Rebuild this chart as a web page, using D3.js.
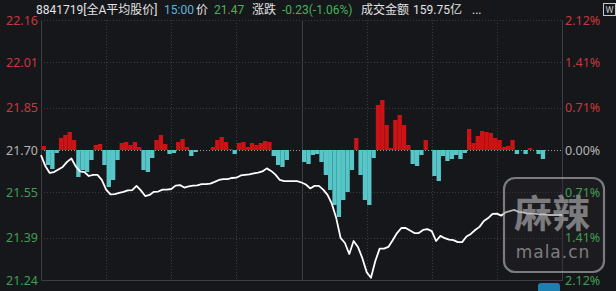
<!DOCTYPE html>
<meta charset="utf-8">
<style>

html, body {
  margin: 0;
  overflow: hidden;
  padding: 0;
}

body {
  background: #16171b;
}

svg {
  display: block;
}

text {
  font-family: Roboto, "Noto Sans CJK SC", sans-serif;
}

.grid line {
  stroke: #3a3c42;
  stroke-dasharray: 1,2;
}

.axis text {
  font-family: "Noto Sans", sans-serif;
  font-size: 12.5px;
}

</style>
<svg width="616" height="291"></svg>
<script src="https://d3js.org/d3.v7.min.js"></script>
<script>

// previous close and axis ticks
var basePrice = 21.70;
var priceTicks = [22.16, 22.01, 21.85, 21.70, 21.55, 21.39, 21.24];
var pctTicks = ["2.12%", "1.41%", "0.71%", "0.00%", "0.71%", "1.41%", "2.12%"];

// price every 2 minutes, 9:30 .. 15:00
var prices = [
  21.682, 21.643, 21.619, 21.622, 21.631, 21.640, 21.658, 21.670, 21.642, 21.624,
  21.622, 21.608, 21.612, 21.612, 21.594, 21.560, 21.543, 21.544, 21.548, 21.552,
  21.557, 21.558, 21.573, 21.557, 21.537, 21.541, 21.552, 21.553, 21.560, 21.560,
  21.562, 21.574, 21.576, 21.567, 21.571, 21.574, 21.575, 21.579, 21.579, 21.581,
  21.587, 21.594, 21.597, 21.597, 21.601, 21.602, 21.610, 21.612, 21.614, 21.617,
  21.620, 21.624, 21.635, 21.626, 21.613, 21.594, 21.590, 21.590, 21.590, 21.590,
  21.585, 21.578, 21.564, 21.573, 21.573, 21.560, 21.541, 21.509, 21.459, 21.389,
  21.371, 21.332, 21.378, 21.357, 21.318, 21.268, 21.248, 21.307, 21.351, 21.351,
  21.357, 21.381, 21.406, 21.424, 21.424, 21.415, 21.406, 21.406, 21.417, 21.420,
  21.413, 21.378, 21.396, 21.388, 21.383, 21.381, 21.374, 21.374, 21.394, 21.403,
  21.417, 21.428, 21.449, 21.459, 21.474, 21.475, 21.468, 21.479, 21.484, 21.488,
  21.481, 21.479, 21.475, 21.475, 21.474, 21.472, 21.472, 21.470, 21.470, 21.470,
  21.470
];

// buy/sell strength bars, one per 2 minutes
var flows = [
    4, -15, -19,  -3,  12,  15,  18,  10, -27, -20,
  -22, -10,   5,   6, -15, -37, -30, -10,   7,   8,
    5,   8,   3, -20, -22,  -8,  10,  15,   6,  -4,
   -3,   8,  11,   3,  -6,  -2,   0,   0,   0,   3,
   10,  13,   8,   1,  -4,   7,   8,   3,   7,   5,
    7,   9,   8,  -6, -15, -17, -10,   0,   0,   0,
  -12, -14,  -5,  -4, -12, -25, -40, -55, -67, -50,
  -42, -20,  12, -25, -50, -55,  -8,  45,  50,  25,
    2,  30,  35,  25,   5, -14, -16,  -5,  10,   0,
  -26, -31,  -6, -11,  -9,  -5,  -9,  -3,  21,   7,
   14,  19,  18,  17,  12,  10,   3,   4,  10,  -4,
    0,  -4,   2,   0,  -4,  -9,   0,   0,   0,   0
];

var header = [
  {text: "8841719[全A平均股价]", color: "#e2e2e2", x: 36},
  {text: "15:00", color: "#5db6d8", x: 164},
  {text: "价", color: "#e2e2e2", x: 196},
  {text: "21.47", color: "#45b35a", x: 214},
  {text: "涨跌", color: "#e2e2e2", x: 252},
  {text: "-0.23(-1.06%)", color: "#45b35a", x: 282},
  {text: "成交金额", color: "#e2e2e2", x: 361},
  {text: "159.75亿", color: "#e2e2e2", x: 413},
  {text: "...", color: "#e2e2e2", x: 472}
];

var svg = d3.select("svg");
var plotLeft = 41, plotRight = 562, plotTop = 20, plotBottom = 280;

var x = d3.scaleLinear().domain([0, 240]).range([plotLeft, plotRight]);
var y = d3.scaleLinear().domain([21.24, 22.16]).range([plotBottom, plotTop]);
var y0 = y(basePrice);
var yBar = d3.scaleLinear().domain([-100, 100]).range([y0 + 100, y0 - 100]);

function tickColor(v) {
  if (Math.abs(v - basePrice) < 0.001) return "#b4b4b4";
  return v > basePrice ? "#c8383a" : "#3f9e52";
}

// horizontal grid
svg.append("g")
    .attr("class", "grid")
  .selectAll("line")
  .data(priceTicks.filter(function(d) { return d !== 21.24; }))
  .enter().append("line")
    .attr("x1", plotLeft)
    .attr("x2", plotRight)
    .attr("y1", function(d) { return Math.round(y(d)) + 0.5; })
    .attr("y2", function(d) { return Math.round(y(d)) + 0.5; })
    .style("stroke", function(d) { return d === basePrice ? "#9a9ca2" : null; });

// vertical grid, every half hour
var halfHours = d3.range(30, 240, 30);
svg.append("g")
    .attr("class", "grid")
  .selectAll("line")
  .data(halfHours)
  .enter().append("line")
    .attr("x1", function(d) { return Math.round(x(d)) + 0.5; })
    .attr("x2", function(d) { return Math.round(x(d)) + 0.5; })
    .attr("y1", plotTop)
    .attr("y2", plotBottom)
    .style("stroke", function(d) { return d === 120 ? "#3c3e44" : null; })
    .style("stroke-dasharray", function(d) { return d === 120 ? "none" : null; });

// frame
svg.append("path")
    .attr("d", "M" + (plotLeft + 0.5) + "," + plotTop + "V" + (plotBottom + 0.5) + "H" + (plotRight + 0.5) + "V" + plotTop)
    .attr("fill", "none")
    .attr("stroke", "#3c3e44");

// strength bars
var bw = x(2) - x(0);
svg.append("g")
  .selectAll("rect")
  .data(flows)
  .enter().append("rect")
    .attr("x", function(d, i) { return x(i * 2) + 0.5; })
    .attr("width", bw)
    .attr("y", function(d) { return d > 0 ? yBar(d) : y0; })
    .attr("height", function(d) { return Math.abs(yBar(d) - y0); })
    .attr("fill", function(d) { return d > 0 ? "#cc1214" : "#56c6c9"; });

// price line
var line = d3.line()
    .x(function(d, i) { return x(i * 2); })
    .y(function(d) { return y(d); });

svg.append("path")
    .datum(prices)
    .attr("d", line)
    .attr("fill", "none")
    .attr("stroke", "#ffffff")
    .attr("stroke-width", 1.8)
    .attr("stroke-linejoin", "round");

// watermark
var wm = svg.append("g").attr("opacity", 0.7);
wm.append("rect")
    .attr("x", 504).attr("y", 178)
    .attr("width", 100).attr("height", 94)
    .attr("rx", 11)
    .attr("fill", "rgba(40,40,44,0.5)")
    .attr("stroke", "#a8a8a8")
    .attr("stroke-width", 2.2);
wm.append("text")
    .attr("x", 552).attr("y", 227)
    .attr("text-anchor", "middle")
    .style("font-family", "'Noto Sans CJK SC', sans-serif")
    .style("font-size", "38px")
    .style("font-weight", "bold")
    .attr("fill", "#a8a8a8")
    .text("麻辣");
wm.append("text")
    .attr("x", 553).attr("y", 258)
    .attr("text-anchor", "middle")
    .style("font-family", "'DejaVu Sans', sans-serif")
    .style("font-size", "17px")
    .style("letter-spacing", "1px")
    .attr("fill", "#a8a8a8")
    .text("mala.cn");

// left price axis
var leftAxis = svg.append("g")
    .attr("class", "axis")
    .attr("transform", "translate(" + plotLeft + ",0)")
    .call(d3.axisLeft(y).tickValues(priceTicks).tickSize(0).tickPadding(3).tickFormat(d3.format(".2f")));
leftAxis.select(".domain").remove();
leftAxis.selectAll("text").attr("fill", function(d) { return tickColor(d); });

// right percent axis
var rightAxis = svg.append("g")
    .attr("class", "axis")
    .attr("transform", "translate(" + plotRight + ",0)")
    .call(d3.axisRight(y).tickValues(priceTicks).tickSize(0).tickPadding(3)
      .tickFormat(function(d, i) { return pctTicks[i]; }));
rightAxis.select(".domain").remove();
rightAxis.selectAll("text").attr("fill", function(d) { return tickColor(d); });

// header
svg.append("g")
  .selectAll("text")
  .data(header)
  .enter().append("text")
    .attr("x", function(d) { return d.x; })
    .attr("y", 14)
    .style("font-size", "12px")
    .attr("fill", function(d) { return d.color; })
    .text(function(d) { return d.text; });

// little toolbar icon, top right
svg.append("rect")
    .attr("x", 603.5).attr("y", 3.5)
    .attr("width", 12).attr("height", 12)
    .attr("fill", "none")
    .attr("stroke", "#c8c8c8");
svg.append("text")
    .attr("x", 609.5).attr("y", 13)
    .attr("text-anchor", "middle")
    .style("font-size", "9px")
    .attr("fill", "#c8c8c8")
    .text("W");

// partial button at bottom edge
svg.append("rect")
    .attr("x", 538).attr("y", 283)
    .attr("width", 22).attr("height", 12)
    .attr("rx", 3)
    .attr("fill", "#1e9ad6")
    .attr("opacity", 0.8);

</script>
